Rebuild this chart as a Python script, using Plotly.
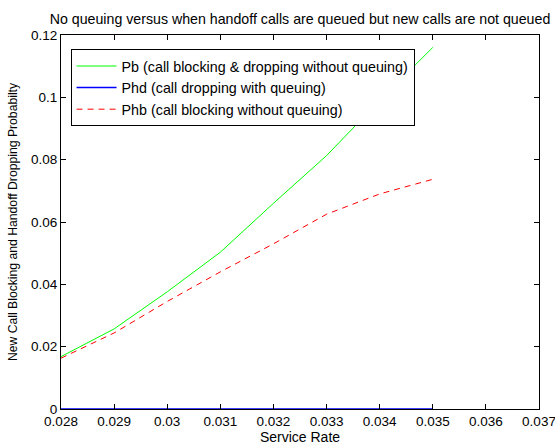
import plotly.graph_objects as go

service_rate = [0.028, 0.029, 0.030, 0.031, 0.032, 0.033, 0.034, 0.035]
pb = [0.0168, 0.0257, 0.0376, 0.0503, 0.0660, 0.0813, 0.0990, 0.1160]
phd = [0.0, 0.0, 0.0, 0.0, 0.0, 0.0, 0.0, 0.0]
phb = [0.0163, 0.0244, 0.0345, 0.0440, 0.0530, 0.0625, 0.0690, 0.0737]

x_ticks = [0.028, 0.029, 0.030, 0.031, 0.032, 0.033, 0.034, 0.035, 0.036, 0.037]
x_tick_labels = ["0.028", "0.029", "0.03", "0.031", "0.032", "0.033", "0.034", "0.035", "0.036", "0.037"]
y_ticks = [0, 0.02, 0.04, 0.06, 0.08, 0.1, 0.12]
y_tick_labels = ["0", "0.02", "0.04", "0.06", "0.08", "0.1", "0.12"]

names = ["Pb (call blocking & dropping without queuing)",
         "Phd (call dropping with queuing)",
         "Phb (call blocking without queuing)"]

fig = go.Figure()
fig.add_trace(go.Scatter(x=service_rate, y=pb, mode="lines", name=names[0],
                         line=dict(color="#00ff00", width=1), cliponaxis=False))
fig.add_trace(go.Scatter(x=service_rate, y=phd, mode="lines", name=names[1],
                         line=dict(color="#0000ff", width=1.5), cliponaxis=False))
fig.add_trace(go.Scatter(x=service_rate, y=phb, mode="lines", name=names[2],
                         line=dict(color="#ff0000", width=1, dash="6px,5px"), cliponaxis=False))

font = dict(family="Liberation Sans, Arial", size=14, color="black")
tickfont = dict(family="Liberation Sans, Arial", size=13.5, color="black")
fig.update_layout(
    width=555, height=446,
    margin=dict(l=61, r=16, t=35, b=37, autoexpand=False),
    paper_bgcolor="white", plot_bgcolor="white",
    font=font,
    title=dict(text="No queuing versus when handoff calls are queued but new calls are not queued",
               xref="paper", x=0.5, xanchor="center", yref="container", y=0.957, yanchor="middle",
               font=dict(family="Liberation Sans, Arial", size=14.2, color="black")),
    showlegend=True,
    legend=dict(x=0.02, y=0.962, xanchor="left", yanchor="top",
                bgcolor="white", bordercolor="black", borderwidth=1,
                font=dict(family="Liberation Sans, Arial", size=14.3, color="black"),
                tracegroupgap=0, itemwidth=40),
)
fig.update_xaxes(range=[0.028, 0.037], tickvals=x_ticks, ticktext=x_tick_labels, tickangle=0,
                 ticklabeloverflow="allow",
                 showgrid=False, zeroline=False, showline=True, linecolor="black", linewidth=1,
                 mirror="ticks", ticks="inside", ticklen=5, tickcolor="black",
                 title=dict(text="Service Rate", standoff=2, font=font), tickfont=tickfont)
fig.update_yaxes(range=[0, 0.12], tickvals=y_ticks, ticktext=y_tick_labels,
                 ticklabeloverflow="allow",
                 showgrid=False, zeroline=False, showline=True, linecolor="black", linewidth=1,
                 mirror="ticks", ticks="inside", ticklen=5, tickcolor="black",
                 title=dict(text="New Call Blocking and Handoff Dropping Probabilty", standoff=10,
                            font=dict(family="Liberation Sans, Arial", size=12.2, color="black")),
                 tickfont=tickfont)

fig.write_html("out.html")
